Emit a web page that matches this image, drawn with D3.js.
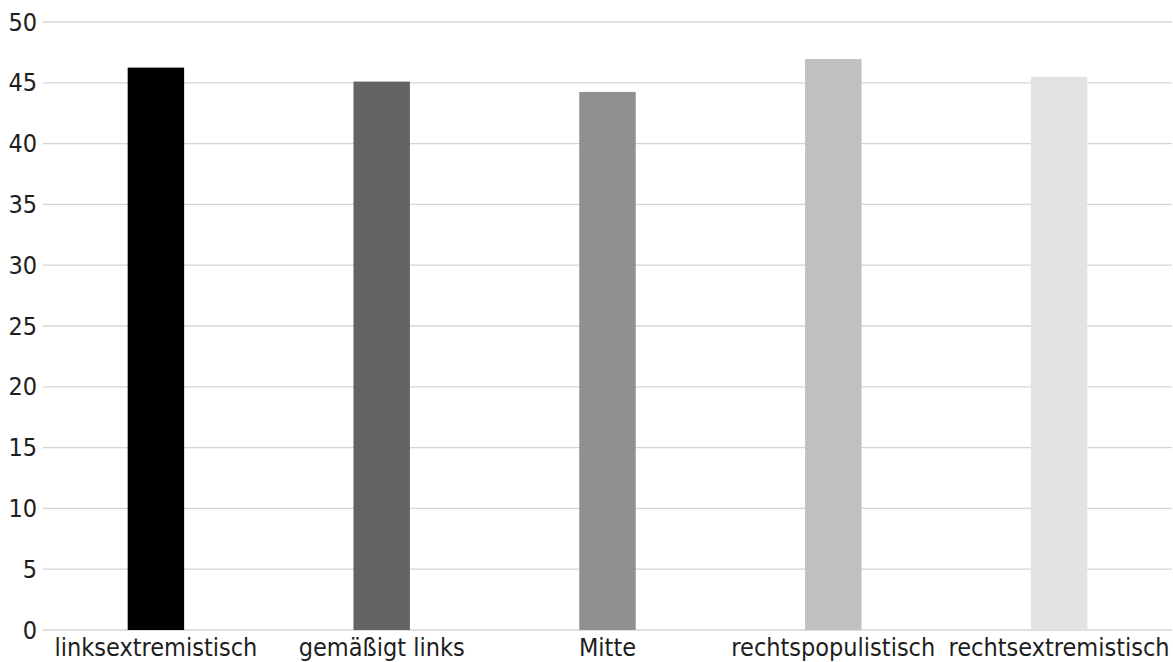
<!DOCTYPE html>
<html><head><meta charset="utf-8">
<script src="https://cdn.jsdelivr.net/npm/d3@7"></script>
<style>body{margin:0;background:#fff}svg{display:block}</style>
</head><body><svg id="c" width="1173" height="662"></svg>
<script>
const categories = ["linksextremistisch","gemäßigt links","Mitte","rechtspopulistisch","rechtsextremistisch"];
const values = [46.25, 45.1, 44.25, 46.95, 45.5];
const colors = ["#000000","#636363","#909090","#c0c0c0","#e3e3e3"];
const yTicks = [0,5,10,15,20,25,30,35,40,45,50];

const svg = d3.select("#c");
const m = {l:43, r:1172, t:22, b:630};
const x = d3.scaleBand().domain(categories).range([m.l, m.r]).paddingInner(0.75).paddingOuter(0.375);
const y = d3.scaleLinear().domain([0,50]).range([m.b, m.t]);

svg.append("g").selectAll("line").data(yTicks).join("line")
  .attr("x1", m.l).attr("x2", m.r).attr("y1", d=>y(d)).attr("y2", d=>y(d))
  .attr("stroke","#d4d4d4").attr("stroke-width",1.3);

svg.append("g").selectAll("rect").data(values).join("rect")
  .attr("x",(d,i)=>x(categories[i])).attr("width",x.bandwidth())
  .attr("y",d=>y(d)).attr("height",d=>y(0)-y(d))
  .attr("fill",(d,i)=>colors[i]);

const font = "'DejaVu Sans Condensed','DejaVu Sans',sans-serif";
const ya = d3.axisLeft(y).tickValues(yTicks).tickSize(0).tickPadding(6);
const gy = svg.append("g").attr("transform",`translate(${m.l},0)`).call(ya);
gy.select(".domain").remove();
gy.selectAll("text").style("font-family",font).style("font-size","25px").attr("fill","#1e1e1e");

const xa = d3.axisBottom(x).tickSize(0).tickPadding(8.5);
const gx = svg.append("g").attr("transform",`translate(0,${m.b})`).call(xa);
gx.select(".domain").remove();
gx.selectAll("text").style("font-family",font).style("font-size","25px").attr("fill","#1e1e1e");
</script></body></html>
